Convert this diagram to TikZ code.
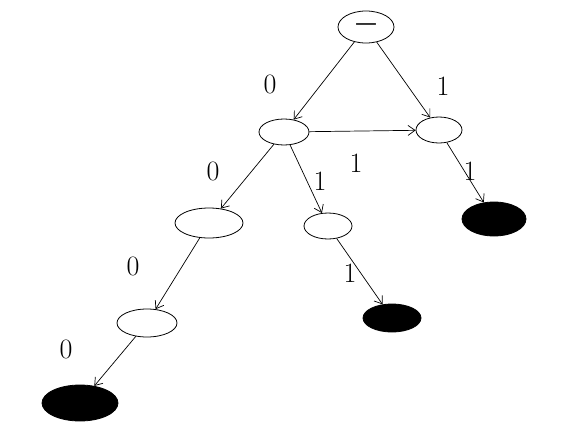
\documentclass[tikz,border=0pt]{standalone}
\usepackage{fontspec}
\newfontfamily\dashfont{DejaVu Sans}
\usetikzlibrary{shapes.geometric,arrows.meta}
\begin{document}
\begin{tikzpicture}[x=1pt,y=-1pt,
  st/.style={ellipse,draw,line width=0.8pt,inner sep=0pt},
  blk/.style={st,fill=black},
  ed/.style={draw,line width=0.7pt,-{Straight Barb[length=7pt,width=10pt]}},
  lab/.style={font=\fontsize{28}{28}\selectfont,inner sep=0pt}]
\useasboundingbox (0,0) rectangle (563,437);
\node[st,minimum width=56pt,minimum height=32pt] (r) at (366,27) {\dashfont\fontsize{22}{22}\selectfont —};
\node[st,minimum width=50pt,minimum height=26pt] (a) at (284,132) {};
\node[st,minimum width=46pt,minimum height=26pt] (b) at (439,130) {};
\node[st,minimum width=68pt,minimum height=30pt] (c) at (209,223) {};
\node[st,minimum width=48pt,minimum height=26pt] (d) at (328,226) {};
\node[blk,minimum width=64pt,minimum height=34pt] (e) at (494,219) {};
\node[st,minimum width=60pt,minimum height=28pt] (f) at (147,323) {};
\node[blk,minimum width=58pt,minimum height=28pt] (g) at (392,318) {};
\node[blk,minimum width=76pt,minimum height=36pt] (h) at (80,403) {};
\draw[ed] (r) -- (a);
\draw[ed] (r) -- (b);
\draw[ed] (a) -- (b);
\draw[ed] (a) -- (c);
\draw[ed] (a) -- (d);
\draw[ed] (b) -- (e);
\draw[ed] (c) -- (f);
\draw[ed] (d) -- (g);
\draw[ed] (f) -- (h);
\node[lab] (l1) at (270,84) {0};
\node[lab] (l2) at (443,86) {1};
\node[lab] (l3) at (356,163) {1};
\node[lab] (l4) at (213,171) {0};
\node[lab] (l5) at (320,181) {1};
\node[lab] (l6) at (470,171) {1};
\node[lab] (l7) at (133,266) {0};
\node[lab] (l8) at (350,273) {1};
\node[lab] (l9) at (66,349) {0};
\end{tikzpicture}
\end{document}
